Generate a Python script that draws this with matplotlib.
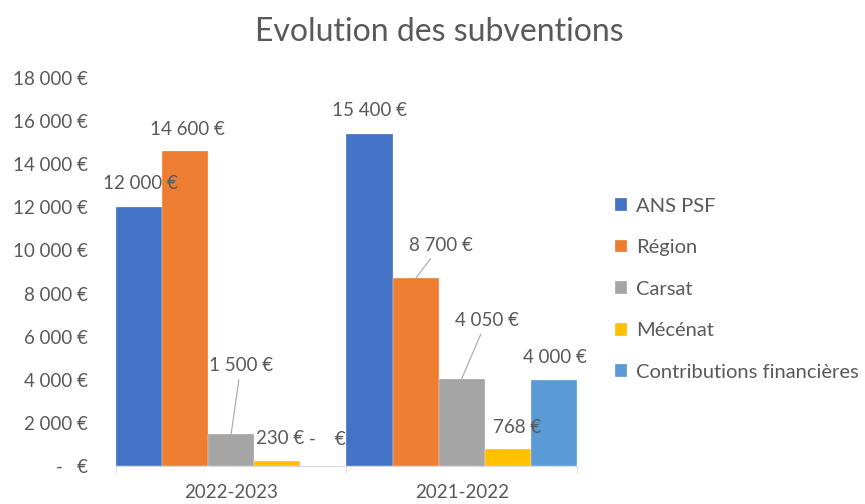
import matplotlib
matplotlib.use("Agg")
import matplotlib.pyplot as plt
from matplotlib.ticker import FuncFormatter, FixedLocator
import numpy as np

plt.rcParams['font.family'] = ['Lato', 'DejaVu Sans']

years = ['2022-2023', '2021-2022']
series = ['ANS PSF', 'Région', 'Carsat', 'Mécénat', 'Contributions financières']
colors = ['#4472C4', '#ED7D31', '#A5A5A5', '#FFC000', '#5B9BD5']
values = {
    'ANS PSF': [12000, 15400],
    'Région': [14600, 8700],
    'Carsat': [1500, 4050],
    'Mécénat': [230, 768],
    'Contributions financières': [0, 4000],
}

# label offsets in points (dx, dy) from top centre of each bar, Excel-like placement
label_offsets = {
    'ANS PSF': [(1, 17), (0, 17)],
    'Région': [(2, 16), (18, 24)],
    'Carsat': [(7, 49), (18, 42)],
    'Mécénat': [(2, 16), (7, 16)],
    'Contributions financières': [(3, 19), (1, 16)],
}
leader = {('Carsat', 0), ('Région', 1), ('Carsat', 1)}

TXT = '#595959'
FS = 13.5


def euro(v, pos=None):
    if v == 0:
        return '-    €' if pos is None else '-   €'
    return f'{int(v):,} €'.replace(',', ' ')


fig = plt.figure(figsize=(8.65, 5.04), dpi=100)
ax = fig.add_axes([0.134, 0.0754, 0.533, 0.7698])

x = np.arange(len(years))
w = 0.2
for i, s in enumerate(series):
    pos = x + (i - 2) * w
    ax.bar(pos, values[s], width=w, color=colors[i], label=s, edgecolor='white', linewidth=0.2)
    for j, v in enumerate(values[s]):
        dx, dy = label_offsets[s][j]
        kw = {}
        if (s, j) in leader:
            kw['arrowprops'] = dict(arrowstyle='-', color='#a6a6a6', lw=0.8, shrinkA=2, shrinkB=0)
        ax.annotate(euro(v), xy=(pos[j], v), xytext=(dx, dy), textcoords='offset points',
                    ha='center', va='center', fontsize=FS, color=TXT, **kw)

ax.set_xlim(-0.5, 1.5)
ax.set_ylim(0, 18000)
ax.set_yticks(np.arange(0, 18001, 2000))
ax.yaxis.set_major_formatter(FuncFormatter(euro))
ax.set_xticks(x)
ax.set_xticklabels(years)
ax.xaxis.set_minor_locator(FixedLocator([-0.5, 0.5, 1.5]))
ax.tick_params(axis='x', which='major', length=0, pad=13, labelsize=FS, labelcolor=TXT)
ax.tick_params(axis='x', which='minor', length=5, color='#d9d9d9')
ax.tick_params(axis='y', length=0, pad=20, labelsize=FS, labelcolor=TXT)
for sp in ['top', 'right', 'left']:
    ax.spines[sp].set_visible(False)
ax.spines['bottom'].set_color('#d9d9d9')

fig.text(0.508, 0.937, 'Evolution des subventions', ha='center', va='center',
         fontsize=23, color=TXT)

leg = fig.legend(loc='upper left', bbox_to_anchor=(0.69, 0.644), frameon=False,
                 handlelength=0.6, handleheight=0.6, handletextpad=0.45,
                 labelspacing=1.22, fontsize=14.5)
for t in leg.get_texts():
    t.set_color(TXT)

fig.savefig('out.png', dpi=100)
